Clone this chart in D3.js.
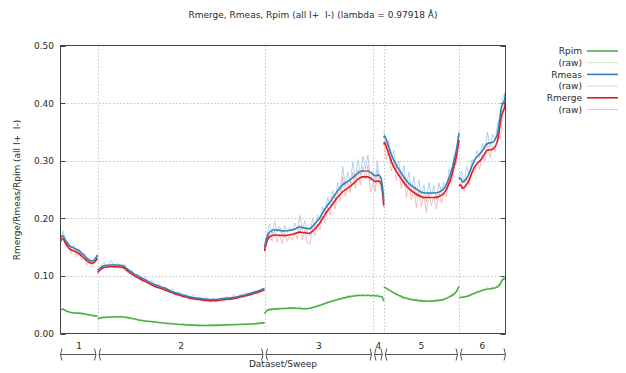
<!DOCTYPE html>
<html>
<head>
<meta charset="utf-8">
<script src="https://cdn.jsdelivr.net/npm/d3@7"></script>
<style>
  body { margin: 0; background: #fff; }
  text { font-family: "DejaVu Sans", sans-serif; font-size: 9px; fill: #2a2a2a; white-space: pre; }
</style>
</head>
<body>
<script>
// sweep layout (batch units along the x axis)
const sweepNames = ["1", "2", "3", "4", "5", "6"];
const sweepEdges = [0, 37, 204, 312.5, 323.3, 398.5, 445];
const yTicks = [0, 0.1, 0.2, 0.3, 0.4, 0.5];

// smoothed curves, one list of [batch, value] per sweep
const rpimFit = [
  [[0,0.041],[2,0.042],[7,0.038],[12,0.036],[20,0.035],[27,0.033],[33,0.031],[37,0.030]],
  [[37,0.026],[44,0.028],[61,0.029],[66,0.028],[72,0.026],[77,0.024],[94,0.020],[111,0.017],[127,0.015],[144,0.014],[161,0.0145],[177,0.0155],[194,0.017],[204,0.0185]],
  [[204,0.034],[206,0.039],[209,0.0415],[219,0.043],[232,0.044],[246,0.043],[256,0.047],[266,0.053],[279,0.060],[289,0.064],[299,0.066],[309,0.066],[312.5,0.066]],
  [[312.5,0.066],[317,0.065],[321,0.064],[322.5,0.060],[323.3,0.056]],
  [[323.3,0.081],[334,0.070],[344,0.062],[354,0.058],[367,0.056],[381,0.058],[389,0.0635],[396,0.073],[398.5,0.082]],
  [[398.5,0.062],[407,0.0645],[414,0.070],[424,0.076],[434,0.079],[438,0.082],[442,0.093],[445,0.096]]
];
const rmeasFit = [
  [[0,0.165],[2,0.170],[5,0.162],[9,0.152],[14,0.148],[19,0.143],[24,0.135],[28,0.128],[31,0.126],[34,0.128],[37,0.136]],
  [[37,0.110],[40,0.114],[44,0.118],[50,0.119],[56,0.119],[62,0.118],[66,0.113],[74,0.103],[84,0.094],[94,0.085],[104,0.079],[114,0.071],[124,0.066],[134,0.062],[144,0.060],[154,0.059],[164,0.061],[174,0.063],[184,0.067],[194,0.072],[200,0.075],[204,0.078]],
  [[204,0.149],[206,0.165],[209,0.176],[214,0.180],[224,0.178],[234,0.181],[239,0.185],[244,0.183],[249,0.182],[254,0.190],[259,0.200],[264,0.215],[271,0.232],[276,0.245],[282,0.258],[287,0.264],[292,0.270],[297,0.278],[302,0.282],[307,0.282],[312.5,0.276]],
  [[312.5,0.276],[315,0.274],[318,0.275],[320.5,0.270],[322,0.255],[323.3,0.230]],
  [[323.3,0.340],[324,0.343],[327,0.330],[331,0.310],[336,0.292],[341,0.278],[347,0.263],[354,0.253],[364,0.244],[374,0.244],[382,0.249],[387,0.263],[392,0.289],[396,0.320],[398.5,0.348]],
  [[398.5,0.268],[400,0.270],[402,0.263],[407,0.272],[414,0.301],[421,0.315],[427,0.330],[432,0.332],[437,0.347],[441,0.393],[444,0.405],[445,0.417]]
];
const rmergeFit = [
  [[0,0.160],[2,0.165],[5,0.157],[9,0.147],[14,0.143],[19,0.138],[24,0.130],[28,0.124],[31,0.122],[34,0.124],[37,0.131]],
  [[37,0.106],[40,0.111],[44,0.115],[50,0.116],[56,0.116],[62,0.115],[66,0.110],[74,0.100],[84,0.091],[94,0.082],[104,0.076],[114,0.069],[124,0.064],[134,0.060],[144,0.058],[154,0.057],[164,0.059],[174,0.061],[184,0.065],[194,0.070],[200,0.073],[204,0.076]],
  [[204,0.143],[206,0.158],[209,0.168],[214,0.171],[224,0.170],[234,0.173],[239,0.176],[244,0.175],[249,0.174],[254,0.181],[259,0.191],[264,0.205],[271,0.222],[276,0.234],[282,0.246],[287,0.252],[292,0.259],[297,0.267],[302,0.272],[307,0.272],[312.5,0.266]],
  [[312.5,0.266],[315,0.264],[318,0.265],[320.5,0.260],[322,0.246],[323.3,0.222]],
  [[323.3,0.328],[324,0.331],[327,0.318],[331,0.298],[336,0.281],[341,0.268],[347,0.254],[354,0.244],[364,0.236],[374,0.236],[382,0.241],[387,0.254],[392,0.279],[396,0.309],[398.5,0.336]],
  [[398.5,0.256],[400,0.258],[402,0.252],[407,0.261],[414,0.289],[421,0.303],[427,0.318],[432,0.320],[437,0.334],[441,0.378],[444,0.392],[445,0.402]]
];

// raw per-batch values, evenly spaced over each sweep
const rpimRaw = [
  [0.040,0.044,0.038,0.039,0.036,0.037,0.035,0.036,0.034,0.035,0.032,0.033,0.030,0.032,0.030],
  [0.026,0.028,0.027,0.029,0.028,0.030,0.028,0.030,0.027,0.028,0.025,0.026,0.023,0.024,0.021,0.022,0.020,0.021,0.019,0.020,0.017,0.018,0.016,0.017,0.015,0.017,0.015,0.016,0.014,0.015,0.014,0.015,0.013,0.015,0.014,0.015,0.014,0.015,0.015,0.016,0.015,0.016,0.016,0.017,0.016,0.018,0.017,0.018,0.018,0.019],
  [0.034,0.040,0.043,0.041,0.044,0.042,0.045,0.043,0.044,0.043,0.046,0.044,0.045,0.043,0.047,0.043,0.045,0.042,0.044,0.046,0.045,0.050,0.048,0.052,0.051,0.056,0.054,0.058,0.057,0.061,0.059,0.063,0.061,0.066,0.063,0.068,0.064,0.069,0.065,0.069,0.066,0.068,0.064,0.065],
  [0.067,0.064,0.068,0.063,0.065,0.057],
  [0.081,0.080,0.075,0.075,0.070,0.070,0.065,0.066,0.061,0.063,0.059,0.061,0.057,0.060,0.056,0.059,0.055,0.058,0.055,0.058,0.056,0.059,0.056,0.060,0.058,0.063,0.062,0.068,0.068,0.075,0.081],
  [0.061,0.065,0.062,0.066,0.065,0.070,0.068,0.074,0.072,0.077,0.075,0.080,0.077,0.082,0.078,0.085,0.084,0.097,0.099]
];
const rmeasRaw = [
  [0.163,0.178,0.160,0.158,0.147,0.154,0.141,0.147,0.135,0.140,0.126,0.131,0.122,0.131,0.138],
  [0.108,0.117,0.124,0.115,0.127,0.117,0.122,0.116,0.120,0.108,0.110,0.101,0.103,0.094,0.099,0.089,0.092,0.083,0.086,0.079,0.081,0.074,0.077,0.069,0.073,0.065,0.068,0.061,0.066,0.060,0.063,0.058,0.062,0.056,0.061,0.057,0.062,0.058,0.064,0.060,0.068,0.062,0.069,0.064,0.071,0.067,0.074,0.071,0.077,0.079],
  [0.150,0.172,0.190,0.172,0.195,0.176,0.186,0.170,0.188,0.175,0.184,0.178,0.192,0.180,0.205,0.179,0.196,0.176,0.170,0.200,0.184,0.206,0.196,0.220,0.208,0.236,0.222,0.248,0.232,0.262,0.246,0.290,0.255,0.280,0.260,0.298,0.268,0.302,0.275,0.308,0.286,0.310,0.265,0.283],
  [0.280,0.262,0.300,0.270,0.262,0.228],
  [0.352,0.320,0.335,0.300,0.318,0.285,0.300,0.268,0.292,0.255,0.280,0.250,0.272,0.238,0.266,0.236,0.258,0.228,0.262,0.240,0.256,0.232,0.262,0.242,0.262,0.250,0.285,0.272,0.310,0.308,0.352],
  [0.270,0.282,0.262,0.290,0.276,0.302,0.296,0.318,0.305,0.330,0.318,0.350,0.322,0.346,0.335,0.368,0.372,0.410,0.420]
];
const rmergeRaw = [
  [0.157,0.168,0.150,0.153,0.139,0.148,0.133,0.141,0.128,0.134,0.119,0.126,0.116,0.124,0.132],
  [0.104,0.112,0.116,0.113,0.119,0.114,0.115,0.112,0.113,0.104,0.105,0.097,0.098,0.090,0.094,0.086,0.087,0.080,0.082,0.076,0.077,0.071,0.073,0.066,0.069,0.062,0.065,0.059,0.062,0.057,0.060,0.055,0.058,0.054,0.057,0.055,0.058,0.056,0.060,0.058,0.063,0.060,0.065,0.062,0.067,0.065,0.070,0.068,0.073,0.076],
  [0.142,0.160,0.174,0.160,0.178,0.158,0.172,0.156,0.175,0.160,0.170,0.162,0.176,0.164,0.188,0.162,0.180,0.157,0.155,0.184,0.170,0.190,0.180,0.204,0.192,0.220,0.205,0.232,0.216,0.246,0.230,0.272,0.238,0.263,0.245,0.280,0.252,0.284,0.258,0.290,0.268,0.292,0.245,0.262],
  [0.268,0.246,0.284,0.255,0.248,0.218],
  [0.335,0.302,0.318,0.282,0.300,0.266,0.282,0.252,0.274,0.236,0.262,0.232,0.254,0.218,0.248,0.220,0.240,0.210,0.244,0.222,0.238,0.216,0.245,0.226,0.245,0.238,0.270,0.258,0.292,0.294,0.335],
  [0.256,0.262,0.248,0.272,0.258,0.284,0.278,0.298,0.285,0.311,0.298,0.330,0.305,0.326,0.316,0.346,0.338,0.390,0.398]
];

const legendNames = ["Rpim", "(raw)", "Rmeas", "(raw)", "Rmerge", "(raw)"];
const legendColors = ["#4daf4a", "#d6edcc", "#377eb8", "#cfe2f1", "#e41a1c", "#fbc2c2"];

const W = 626, H = 373;
const plot = { left: 60.5, right: 505.5, top: 45.5, bottom: 333.5 };

const svg = d3.select('body').append('svg')
  .attr('width', W)
  .attr('height', H);

const x = d3.scaleLinear().domain([0, 445]).range([plot.left, plot.right]);
const y = d3.scaleLinear().domain([0, 0.5]).range([plot.bottom, plot.top]);

// title
svg.append('text')
  .attr('x', 313).attr('y', 18)
  .attr('text-anchor', 'middle')
  .text('Rmerge, Rmeas, Rpim (all I+  I-) (lambda = 0.97918 Å)');

// grid
const grid = svg.append('g')
  .attr('stroke', '#c4c4c4')
  .attr('stroke-dasharray', '1.5,2')
  .attr('stroke-width', 1);
grid.selectAll('.hg')
  .data(yTicks.slice(1, -1))
  .enter().append('line')
  .attr('x1', plot.left).attr('x2', plot.right)
  .attr('y1', d => Math.round(y(d)) + 0.5).attr('y2', d => Math.round(y(d)) + 0.5);
grid.selectAll('.vg')
  .data(sweepEdges.slice(1, -1))
  .enter().append('line')
  .attr('x1', d => Math.round(x(d)) + 0.5).attr('x2', d => Math.round(x(d)) + 0.5)
  .attr('y1', plot.top).attr('y2', plot.bottom);

// y tick labels and ticks (left and mirrored right)
svg.selectAll('.ytl')
  .data(yTicks)
  .enter().append('text')
  .attr('x', 54).attr('y', d => y(d) + 3.5)
  .attr('text-anchor', 'end')
  .text(d => d.toFixed(2));
const ticks = svg.append('g').attr('stroke', '#444').attr('stroke-width', 1);
yTicks.forEach(t => {
  const ty = Math.round(y(t)) + 0.5;
  ticks.append('line').attr('x1', plot.left).attr('x2', plot.left + 5).attr('y1', ty).attr('y2', ty);
  ticks.append('line').attr('x1', plot.right - 5).attr('x2', plot.right).attr('y1', ty).attr('y2', ty);
});

// y axis title
svg.append('text')
  .attr('transform', 'translate(20,190) rotate(-90)')
  .attr('text-anchor', 'middle')
  .text('Rmerge/Rmeas/Rpim (all I+  I-)');

// clip
svg.append('clipPath').attr('id', 'clip')
  .append('rect')
  .attr('x', plot.left).attr('y', plot.top)
  .attr('width', plot.right - plot.left).attr('height', plot.bottom - plot.top);

const body = svg.append('g').attr('clip-path', 'url(#clip)');

const rawLine = d3.line().x(d => x(d[0])).y(d => y(d[1]));
const fitLine = d3.line().x(d => x(d[0])).y(d => y(d[1])).curve(d3.curveMonotoneX);

function rawPoints(vals, s) {
  const a = sweepEdges[s], b = sweepEdges[s + 1];
  return vals.map((v, i) => [a + i * (b - a) / (vals.length - 1), v]);
}

function drawRaw(series, color, op) {
  body.append('g').selectAll('path')
    .data(series.map(rawPoints))
    .enter().append('path')
    .attr('d', rawLine)
    .attr('fill', 'none')
    .attr('stroke', color)
    .attr('stroke-opacity', op)
    .attr('stroke-width', 1);
}
function drawFit(series, color) {
  body.append('g').selectAll('path')
    .data(series)
    .enter().append('path')
    .attr('d', fitLine)
    .attr('fill', 'none')
    .attr('stroke', color)
    .attr('stroke-width', 1.6)
    .attr('stroke-linejoin', 'round');
}

drawRaw(rpimRaw, '#a6d98f', 0.85);
drawRaw(rmeasRaw, '#9cc3e2', 0.75);
drawRaw(rmergeRaw, '#f7a3a3', 0.7);
drawFit(rpimFit, '#4daf4a');
drawFit(rmergeFit, '#e41a1c');
drawFit(rmeasFit, '#377eb8');

// border
svg.append('rect')
  .attr('x', plot.left).attr('y', plot.top)
  .attr('width', plot.right - plot.left).attr('height', plot.bottom - plot.top)
  .attr('fill', 'none')
  .attr('stroke', '#444')
  .attr('stroke-width', 1);

// sweep axis under the plot
const sy = 354.5;
const sweepAxis = svg.append('g').attr('stroke', '#555').attr('fill', 'none').attr('stroke-width', 1);
sweepNames.forEach((name, i) => {
  const a = x(sweepEdges[i]) + (i === 0 ? 0 : 1.5);
  const b = x(sweepEdges[i + 1]) - (i === sweepNames.length - 1 ? 0 : 1.5);
  sweepAxis.append('line').attr('x1', a).attr('x2', b).attr('y1', sy).attr('y2', sy);
  sweepAxis.append('path').attr('d', `M${a + 1.5},${sy - 6} Q${a - 1.5},${sy} ${a + 1.5},${sy + 6}`);
  sweepAxis.append('path').attr('d', `M${b - 1.5},${sy - 6} Q${b + 1.5},${sy} ${b - 1.5},${sy + 6}`);
  svg.append('text')
    .attr('x', (x(sweepEdges[i]) + x(sweepEdges[i + 1])) / 2)
    .attr('y', 349)
    .attr('text-anchor', 'middle')
    .text(name);
});
svg.append('text')
  .attr('x', (plot.left + plot.right) / 2).attr('y', 367)
  .attr('text-anchor', 'middle')
  .text('Dataset/Sweep');

// legend
const legend = svg.append('g');
legendNames.forEach((name, i) => {
  const ly = 51 + i * 11.7;
  legend.append('text')
    .attr('x', 582).attr('y', ly + 3.3)
    .attr('text-anchor', 'end')
    .text(name);
  legend.append('line')
    .attr('x1', 587).attr('x2', 618)
    .attr('y1', ly).attr('y2', ly)
    .attr('stroke', legendColors[i])
    .attr('stroke-width', i % 2 === 0 ? 1.6 : 1.2);
});
</script>
</body>
</html>
